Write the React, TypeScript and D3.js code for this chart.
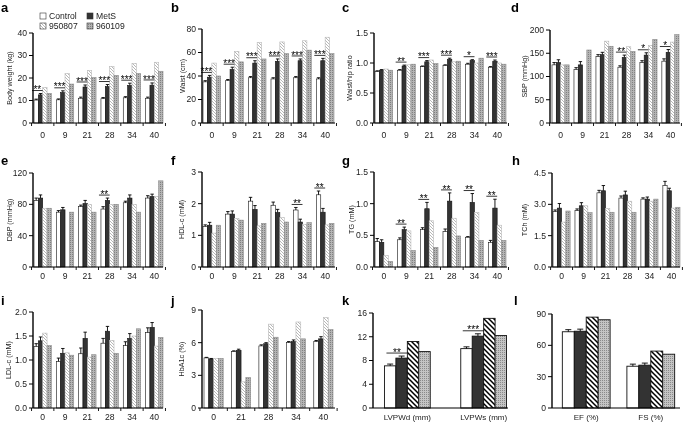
import React from "react";
import * as d3 from "d3";

const FONT = "'Liberation Sans', Arial, Helvetica, sans-serif";
const groups = ["Control", "MetS", "950807", "960109"];

const weeks = ["0", "9", "21", "28", "34", "40"];
const weeksHbA1c = ["0", "21", "28", "34", "40"];
const echoWall = ["LVPWd (mm)", "LVPWs (mm)"];
const echoFunc = ["EF (%)", "FS (%)"];

// a Body weight
const bwControl = [10.2, 10.3, 11.0, 10.8, 11.2, 11.0];
const bwMetS = [12.5, 13.5, 16.0, 16.2, 16.7, 16.8];
const bw950807 = [15.8, 22.0, 23.4, 25.2, 26.5, 27.0];
const bw960109 = [13.2, 17.3, 20.2, 21.2, 22.0, 23.0];
const bwControlErr = [0.4, 0.4, 0.5, 0.5, 0.5, 0.5];
const bwMetSErr = [0.6, 0.8, 0.9, 0.9, 1.0, 1.0];
const bwStars = ["**", "***", "***", "***", "***", "***"];

// b Waist
const waistControl = [35, 36, 38.5, 37.5, 38.5, 37.5];
const waistMetS = [39, 45.5, 51, 52.5, 53, 53];
const waist950807 = [51, 61, 68.5, 69, 70, 73];
const waist960109 = [40, 52, 54.5, 59, 62, 59];
const waistControlErr = [1, 1, 1, 1, 1, 1];
const waistMetSErr = [1.5, 2, 2, 2, 1.5, 2];
const waistStars = ["***", "***", "***", "***", "***", "***"];

// c Waist/hip
const whrControl = [0.86, 0.88, 0.94, 0.96, 0.98, 0.93];
const whrMetS = [0.88, 0.95, 1.02, 1.06, 1.04, 1.03];
const whr950807 = [0.9, 0.97, 1.05, 1.02, 1.0, 1.0];
const whr960109 = [0.88, 0.98, 0.99, 1.03, 1.08, 0.98];
const whrControlErr = [0.01, 0.01, 0.01, 0.01, 0.015, 0.01];
const whrMetSErr = [0.01, 0.015, 0.02, 0.02, 0.015, 0.02];
const whrStars = ["", "**", "***", "***", "*", "***"];

// d SBP
const sbpControl = [125, 115, 143, 120, 130, 133];
const sbpMetS = [130, 125, 147, 141, 146, 152];
const sbp950807 = [125, null, 176, 164, 167, 174];
const sbp960109 = [125, 157, 165, 154, 180, 190];
const sbpControlErr = [5, 4, 4, 3, 4, 5];
const sbpMetSErr = [6, 7, 5, 5, 5, 6];
const sbpStars = ["", "", "", "**", "*", "*"];

// e DBP
const dbpControl = [85, 70, 77, 74, 82, 88];
const dbpMetS = [88, 73, 81, 85, 88, 90];
const dbp950807 = [75, null, 80, 80, 80, 90];
const dbp960109 = [75, 70, 70, 80, 70, 110];
const dbpControlErr = [3, 2, 2, 3, 2, 3];
const dbpMetSErr = [4, 3, 4, 3, 4, 3];
const dbpStars = ["", "", "", "**", "", ""];

// f HDL-c
const hdlControl = [1.28, 1.67, 2.08, 1.95, 1.8, 2.28];
const hdlMetS = [1.32, 1.67, 1.82, 1.72, 1.42, 1.73];
const hdl950807 = [1.07, 1.53, 1.3, 1.56, 1.35, 1.33];
const hdl960109 = [1.32, 1.48, 1.38, 1.42, 1.4, 1.38];
const hdlControlErr = [0.05, 0.08, 0.12, 0.1, 0.08, 0.12];
const hdlMetSErr = [0.09, 0.1, 0.12, 0.1, 0.09, 0.12];
const hdlStars = ["", "", "", "", "**", "**"];

// g TG
const tgControl = [0.4, 0.43, 0.59, 0.56, 0.47, 0.39];
const tgMetS = [0.39, 0.59, 0.92, 1.04, 1.02, 0.93];
const tg950807 = [0.18, 0.57, 0.73, 0.77, 0.86, 0.66];
const tg960109 = [0.09, 0.26, 0.31, 0.49, 0.42, 0.42];
const tgControlErr = [0.05, 0.03, 0.03, 0.04, 0.01, 0.03];
const tgMetSErr = [0.04, 0.04, 0.1, 0.13, 0.14, 0.14];
const tgStars = ["", "**", "**", "**", "**", "**"];

// h TCh
const tchControl = [2.65, 2.7, 3.55, 3.3, 3.25, 3.9];
const tchMetS = [2.82, 2.93, 3.65, 3.45, 3.25, 3.65];
const tch950807 = [2.15, 2.93, 2.8, 3.15, 3.15, 2.82];
const tch960109 = [2.68, 2.6, 2.62, 2.62, 3.25, 2.86];
const tchControlErr = [0.08, 0.08, 0.12, 0.1, 0.06, 0.2];
const tchMetSErr = [0.22, 0.15, 0.25, 0.18, 0.1, 0.12];
const tchStars = ["", "", "", "", "", ""];

// i LDL-c
const ldlControl = [1.28, 0.97, 1.13, 1.35, 1.3, 1.57];
const ldlMetS = [1.4, 1.14, 1.45, 1.6, 1.45, 1.68];
const ldl950807 = [1.56, 1.15, 1.06, 1.41, 1.5, 1.29];
const ldl960109 = [1.3, 1.1, 1.11, 1.14, 1.65, 1.47];
const ldlControlErr = [0.06, 0.07, 0.12, 0.1, 0.08, 0.1];
const ldlMetSErr = [0.08, 0.1, 0.13, 0.1, 0.1, 0.1];
const ldlStars = ["", "", "", "", "", ""];

// j HbA1c
const hbControl = [4.6, 5.2, 5.7, 6.0, 6.1];
const hbMetS = [4.5, 5.3, 5.9, 6.1, 6.35];
const hb950807 = [4.55, 2.4, 7.7, 7.9, 8.3];
const hb960109 = [4.55, 2.8, 6.5, 6.35, 7.2];
const hbControlErr = [0.05, 0.05, 0.1, 0.1, 0.1];
const hbMetSErr = [0.05, 0.1, 0.1, 0.15, 0.2];
const hbStars = ["", "", "", "", ""];

// k LVPW
const lvControl = [7.1, 10.0];
const lvMetS = [8.4, 12.1];
const lv950807 = [11.2, 15.1];
const lv960109 = [9.5, 12.2];
const lvControlErr = [0.3, 0.3];
const lvMetSErr = [0.35, 0.4];
const lvStars = ["**", "***"];

// l EF / FS
const efControl = [73, 40];
const efMetS = [73.5, 41];
const ef950807 = [87, 54.5];
const ef960109 = [84.5, 51.5];
const efControlErr = [2, 2];
const efMetSErr = [2, 2];
const efStars = ["", ""];

type Cfg = {
  letter: string; lx: number; ly: number;
  left: number; right: number; top: number; bottom: number;
  yMax: number; ticks: number[]; fmt: string; title: string; titleX: number;
  cats: string[]; series: (number | null)[][]; errs: number[][]; stars: string[];
  wide: boolean; labelY: number; pi: number; po: number; r0: number; r1: number;
};

const R1 = { bottom: 123, lab: 138 };
const R2 = { bottom: 267, lab: 279 };
const R3 = { bottom: 408, lab: 420 };

const panels: Cfg[] = [
  { letter: "a", lx: 1, ly: 12, left: 33, right: 163, top: 33, bottom: R1.bottom, yMax: 40, ticks: [0, 10, 20, 30, 40], fmt: "d", title: "Body weight (kg)", titleX: 10,
    cats: weeks, series: [bwControl, bwMetS, bw950807, bw960109], errs: [bwControlErr, bwMetSErr], stars: bwStars, wide: false, labelY: R1.lab, pi: 0.22, po: 0, r0: 34, r1: 163 },
  { letter: "b", lx: 171, ly: 12, left: 202, right: 335, top: 29, bottom: R1.bottom, yMax: 80, ticks: [0, 20, 40, 60, 80], fmt: "d", title: "Waist (cm)", titleX: 183,
    cats: weeks, series: [waistControl, waistMetS, waist950807, waist960109], errs: [waistControlErr, waistMetSErr], stars: waistStars, wide: false, labelY: R1.lab, pi: 0.22, po: 0, r0: 203, r1: 334 },
  { letter: "c", lx: 342, ly: 12, left: 374, right: 507, top: 33, bottom: R1.bottom, yMax: 1.5, ticks: [0, 0.5, 1, 1.5], fmt: ".1f", title: "Waist/hip ratio", titleX: 350,
    cats: weeks, series: [whrControl, whrMetS, whr950807, whr960109], errs: [whrControlErr, whrMetSErr], stars: whrStars, wide: false, labelY: R1.lab, pi: 0.22, po: 0, r0: 375, r1: 506 },
  { letter: "d", lx: 511, ly: 12, left: 550, right: 680, top: 30, bottom: R1.bottom, yMax: 200, ticks: [0, 50, 100, 150, 200], fmt: "d", title: "SBP (mmHg)", titleX: 525,
    cats: weeks, series: [sbpControl, sbpMetS, sbp950807, sbp960109], errs: [sbpControlErr, sbpMetSErr], stars: sbpStars, wide: false, labelY: R1.lab, pi: 0.22, po: 0, r0: 552, r1: 679 },

  { letter: "e", lx: 1, ly: 165, left: 33, right: 163, top: 173, bottom: R2.bottom, yMax: 120, ticks: [0, 40, 80, 120], fmt: "d", title: "DBP (mmHg)", titleX: 10,
    cats: weeks, series: [dbpControl, dbpMetS, dbp950807, dbp960109], errs: [dbpControlErr, dbpMetSErr], stars: dbpStars, wide: false, labelY: R2.lab, pi: 0.22, po: 0, r0: 34, r1: 163 },
  { letter: "f", lx: 171, ly: 165, left: 202, right: 335, top: 172, bottom: R2.bottom, yMax: 3, ticks: [0, 1, 2, 3], fmt: "d", title: "HDL-c (mM)", titleX: 182,
    cats: weeks, series: [hdlControl, hdlMetS, hdl950807, hdl960109], errs: [hdlControlErr, hdlMetSErr], stars: hdlStars, wide: false, labelY: R2.lab, pi: 0.22, po: 0, r0: 203, r1: 334 },
  { letter: "g", lx: 342, ly: 165, left: 374, right: 507, top: 172, bottom: R2.bottom, yMax: 1.5, ticks: [0, 0.5, 1, 1.5], fmt: ".1f", title: "TG (mM)", titleX: 352,
    cats: weeks, series: [tgControl, tgMetS, tg950807, tg960109], errs: [tgControlErr, tgMetSErr], stars: tgStars, wide: false, labelY: R2.lab, pi: 0.22, po: 0, r0: 375, r1: 506 },
  { letter: "h", lx: 512, ly: 165, left: 552, right: 680, top: 173, bottom: R2.bottom, yMax: 4.5, ticks: [0, 1.5, 3, 4.5], fmt: ".1f", title: "TCh (mM)", titleX: 525,
    cats: weeks, series: [tchControl, tchMetS, tch950807, tch960109], errs: [tchControlErr, tchMetSErr], stars: tchStars, wide: false, labelY: R2.lab, pi: 0.22, po: 0, r0: 553, r1: 680 },

  { letter: "i", lx: 1, ly: 305, left: 33, right: 163, top: 312, bottom: R3.bottom, yMax: 2, ticks: [0, 0.5, 1, 1.5, 2], fmt: ".1f", title: "LDL-c (mM)", titleX: 9,
    cats: weeks, series: [ldlControl, ldlMetS, ldl950807, ldl960109], errs: [ldlControlErr, ldlMetSErr], stars: ldlStars, wide: false, labelY: R3.lab, pi: 0.22, po: 0, r0: 34, r1: 163 },
  { letter: "j", lx: 171, ly: 305, left: 202, right: 335, top: 310, bottom: R3.bottom, yMax: 9, ticks: [0, 3, 6, 9], fmt: "d", title: "HbA1c (%)", titleX: 182,
    cats: weeksHbA1c, series: [hbControl, hbMetS, hb950807, hb960109], errs: [hbControlErr, hbMetSErr], stars: hbStars, wide: false, labelY: R3.lab, pi: 0.3, po: 0, r0: 204, r1: 333 },
  { letter: "k", lx: 342, ly: 305, left: 373, right: 508, top: 313, bottom: R3.bottom, yMax: 16, ticks: [0, 4, 8, 12, 16], fmt: "d", title: "", titleX: 350,
    cats: echoWall, series: [lvControl, lvMetS, lv950807, lv960109], errs: [lvControlErr, lvMetSErr], stars: lvStars, wide: true, labelY: R3.lab, pi: 0.4, po: 0.15, r0: 373, r1: 518 },
  { letter: "l", lx: 514, ly: 305, left: 552, right: 680, top: 314, bottom: R3.bottom, yMax: 90, ticks: [0, 30, 60, 90], fmt: "d", title: "", titleX: 525,
    cats: echoFunc, series: [efControl, efMetS, ef950807, ef960109], errs: [efControlErr, efMetSErr], stars: efStars, wide: true, labelY: R3.lab, pi: 0.26, po: 0.16, r0: 552, r1: 685 },
];

function fillFor(g: number, wide: boolean) {
  if (g === 0) return "#ffffff";
  if (g === 1) return "#333333";
  if (g === 2) return wide ? "url(#hatchL)" : "url(#hatchS)";
  return wide ? "url(#dotL)" : "url(#dotS)";
}
function strokeFor(g: number, wide: boolean) {
  if (wide) return "#111";
  if (g === 0) return "#111";
  if (g === 1) return "#111";
  if (g === 2) return "#b8b8b8";
  return "#8a8a8a";
}

function Panel({ p }: { p: Cfg }) {
  const y = d3.scaleLinear().domain([0, p.yMax]).range([p.bottom, p.top]);
  const x0 = d3.scaleBand<string>().domain(p.cats).range([p.r0, p.r1]).paddingInner(p.pi).paddingOuter(p.po);
  const x1 = d3.scaleBand<string>().domain(groups).range([0, x0.bandwidth()]);
  const bw = x1.bandwidth();
  const fmt = p.fmt === "d" ? d3.format("d") : d3.format(p.fmt);
  const step = x0.step();
  const gap = step - x0.bandwidth();
  const tickXs = p.wide ? [] : [...p.cats.map((c) => (x0(c) as number) - gap / 2), (x0(p.cats[p.cats.length - 1]) as number) + x0.bandwidth() + gap / 2];
  const capW = p.wide ? 6 : 3.4;
  return (
    <g>
      <text x={p.lx} y={p.ly} fontSize={13} fontWeight="bold" fontFamily={FONT}>{p.letter}</text>
      {p.title && (
        <text transform={`translate(${p.titleX},${(p.top + p.bottom) / 2}) rotate(-90)`} textAnchor="middle" dominantBaseline="middle" fontSize={7.2} fontFamily={FONT} fill="#222">{p.title}</text>
      )}
      {p.cats.map((c, i) => (
        <g key={c}>
          {p.series.map((s, g) => {
            const v = s[i];
            if (v === null || v === undefined) return null;
            const x = (x0(c) as number) + (x1(groups[g]) as number);
            return (
              <rect key={g} x={x} y={y(v)} width={bw} height={p.bottom - y(v)} fill={fillFor(g, p.wide)} stroke={strokeFor(g, p.wide)} strokeWidth={p.wide ? 0.9 : 0.6} />
            );
          })}
          {p.errs.map((e, g) => {
            const v = p.series[g][i] as number;
            const cx = (x0(c) as number) + (x1(groups[g]) as number) + bw / 2;
            const yt = y(v + e[i]);
            return (
              <g key={"e" + g} stroke="#000" strokeWidth={0.9}>
                <line x1={cx} x2={cx} y1={y(v)} y2={yt} />
                <line x1={cx - capW / 2} x2={cx + capW / 2} y1={yt} y2={yt} />
              </g>
            );
          })}
          {p.stars[i] && (() => {
            const vc = (p.series[0][i] as number) + p.errs[0][i];
            const vm = (p.series[1][i] as number) + p.errs[1][i];
            const ly = y(Math.max(vc, vm)) - 3;
            const xa = (x0(c) as number) - (p.wide ? -2 : 2);
            const xb = (x0(c) as number) + (x1(groups[1]) as number) + bw;
            return (
              <g>
                <line x1={xa} x2={xb} y1={ly} y2={ly} stroke="#000" strokeWidth={0.8} />
                <text x={(xa + xb) / 2} y={ly + 2.6} textAnchor="middle" fontSize={10} fontFamily={FONT} fill="#000">{p.stars[i]}</text>
              </g>
            );
          })()}
          <text x={(x0(c) as number) + x0.bandwidth() / 2} y={p.labelY} textAnchor="middle" fontSize={p.wide ? 8 : 8.6} fontFamily={FONT} fill="#222">{c}</text>
        </g>
      ))}
      <line x1={p.left} x2={p.left} y1={p.top} y2={p.bottom} stroke="#000" strokeWidth={1.4} />
      <line x1={p.left} x2={p.right} y1={p.bottom} y2={p.bottom} stroke="#000" strokeWidth={1.2} />
      {p.ticks.map((t) => (
        <g key={t}>
          <line x1={p.left - 4} x2={p.left} y1={y(t)} y2={y(t)} stroke="#000" strokeWidth={1} />
          <text x={p.left - 6} y={y(t)} dy="0.34em" textAnchor="end" fontSize={8.6} fontFamily={FONT} fill="#222">{fmt(t)}</text>
        </g>
      ))}
      {tickXs.map((tx, k) => (
        <line key={k} x1={tx} x2={tx} y1={p.bottom} y2={p.bottom + 3} stroke="#000" strokeWidth={0.9} />
      ))}
    </g>
  );
}

export default function App() {
  const legend = [
    { name: groups[0], x: 40, y: 19 },
    { name: groups[1], x: 87, y: 19 },
    { name: groups[2], x: 40, y: 29 },
    { name: groups[3], x: 87, y: 29 },
  ];
  return (
    <svg width={685} height={425} style={{ display: "block", position: "absolute", left: 0, top: 0, willChange: "transform" }}>
      <defs>
        <pattern id="hatchS" patternUnits="userSpaceOnUse" width="3" height="3">
          <rect width="3" height="3" fill="#fff" />
          <path d="M0,0 L3,3 M-1,2 L1,4 M2,-1 L4,1" stroke="#9a9a9a" strokeWidth="0.7" />
        </pattern>
        <pattern id="dotS" patternUnits="userSpaceOnUse" width="2" height="2">
          <rect width="2" height="2" fill="#b4b4b4" />
          <rect width="1" height="1" fill="#808080" />
        </pattern>
        <pattern id="hatchL" patternUnits="userSpaceOnUse" width="5" height="5">
          <rect width="5" height="5" fill="#fff" />
          <path d="M0,0 L5,5 M-1,4 L1,6 M4,-1 L6,1" stroke="#000" strokeWidth="1.5" />
        </pattern>
        <pattern id="dotL" patternUnits="userSpaceOnUse" width="2" height="2">
          <rect width="2" height="2" fill="#c4c4c4" />
          <rect width="1" height="1" fill="#8a8a8a" />
        </pattern>
      </defs>
      <rect width={685} height={425} fill="#fff" />
      {panels.map((p) => (
        <Panel key={p.letter} p={p} />
      ))}
      {legend.map((l, g) => (
        <g key={l.name}>
          <rect x={l.x} y={l.y - 6} width={6} height={6} fill={fillFor(g, false)} stroke="#333" strokeWidth={0.6} />
          <text x={l.x + 9} y={l.y} fontSize={8.6} fontFamily={FONT} fill="#222">{l.name}</text>
        </g>
      ))}
    </svg>
  );
}
